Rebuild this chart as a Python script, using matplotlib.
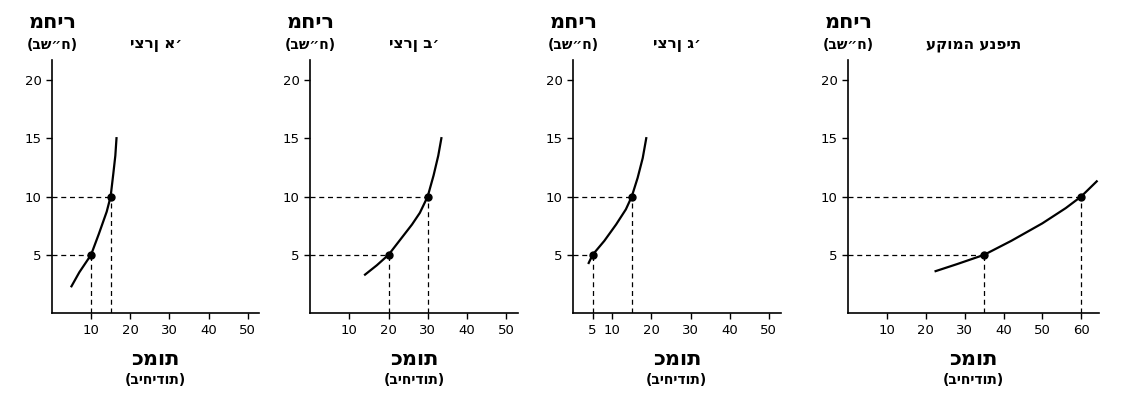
import matplotlib.pyplot as plt

plt.rcParams['font.family'] = ['DejaVu Sans']

# data
titles = ["יצרן א׳", "יצרן ב׳", "יצרן ג׳", "עקומה ענפית"]
curve_q = [
    [5, 7, 10, 12, 14, 15, 15.7, 16.2, 16.5],
    [14, 17, 20, 23, 26, 28, 30, 31.5, 32.7, 33.5],
    [4, 5, 8, 11, 13.5, 15, 16.5, 17.8, 18.7],
    [22.5, 28, 35, 42, 50, 56, 60, 64],
]
curve_p = [
    [2.3, 3.5, 5, 6.8, 8.7, 10, 12, 13.5, 15],
    [3.3, 4.1, 5, 6.3, 7.6, 8.6, 10, 11.8, 13.5, 15],
    [4.3, 5, 6.2, 7.6, 8.9, 10, 11.6, 13.3, 15],
    [3.6, 4.2, 5, 6.2, 7.7, 9.0, 10, 11.3],
]
point_q = [[10, 15], [20, 30], [5, 15], [35, 60]]
point_p = [5, 10]
xticks = [[10, 20, 30, 40, 50], [10, 20, 30, 40, 50],
          [5, 10, 20, 30, 40, 50], [10, 20, 30, 40, 50, 60]]
yticks = [5, 10, 15, 20]
xmax = [53, 53, 53, 64.5]

fig = plt.figure(figsize=(11.28, 4.03), dpi=100)
lefts = [0.046, 0.275, 0.508, 0.752]
widths = [0.184, 0.184, 0.184, 0.222]

for i in range(4):
    ax = fig.add_axes([lefts[i], 0.223, widths[i], 0.628])
    ax.plot(curve_q[i], curve_p[i], color="black", lw=1.6)
    for q, p in zip(point_q[i], point_p):
        ax.plot([0, q], [p, p], color="black", lw=0.9, ls=(0, (4, 3)))
        ax.plot([q, q], [0, p], color="black", lw=0.9, ls=(0, (4, 3)))
        ax.plot(q, p, "o", color="black", ms=5)
    ax.set_xlim(0, xmax[i])
    ax.set_ylim(0, 21.7)
    ax.set_xticks(xticks[i])
    ax.set_yticks(yticks)
    ax.tick_params(labelsize=9.5, length=4, width=1, direction="out")
    for side in ["top", "right"]:
        ax.spines[side].set_visible(False)
    for side in ["left", "bottom"]:
        ax.spines[side].set_linewidth(1.2)

    ax.text(0.5, 1.06, titles[i], transform=ax.transAxes, ha="center",
            va="center", fontsize=11, fontweight="bold")
    ax.text(0.0, 1.15, "מחיר", transform=ax.transAxes, ha="center",
            va="center", fontsize=15, fontweight="bold")
    ax.text(0.0, 1.06, "(בש״ח)", transform=ax.transAxes, ha="center",
            va="center", fontsize=10, fontweight="bold")
    ax.text(0.5, -0.18, "כמות", transform=ax.transAxes, ha="center",
            va="center", fontsize=15, fontweight="bold")
    ax.text(0.5, -0.265, "(ביחידות)", transform=ax.transAxes, ha="center",
            va="center", fontsize=10, fontweight="bold")

fig.savefig("out.png", dpi=100)
